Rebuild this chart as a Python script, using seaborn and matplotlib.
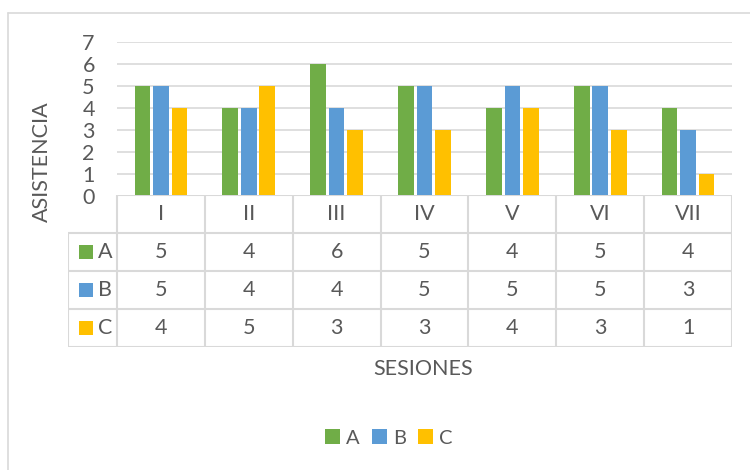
import pandas as pd
import matplotlib.pyplot as plt
import seaborn as sns
from matplotlib.patches import Patch
from matplotlib.lines import Line2D

sesiones = ["I", "II", "III", "IV", "V", "VI", "VII"]
grupos = ["A", "B", "C"]
valores_a = [5, 4, 6, 5, 4, 5, 4]
valores_b = [5, 4, 4, 5, 5, 5, 3]
valores_c = [4, 5, 3, 3, 4, 3, 1]
colores = ["#70AD47", "#5B9BD5", "#FFC000"]

series = {"A": valores_a, "B": valores_b, "C": valores_c}
df = pd.DataFrame([(s, g, series[g][i]) for g in grupos for i, s in enumerate(sesiones)],
                  columns=["Sesion", "Grupo", "Valor"])

sns.set_style("white")
plt.rcParams["font.family"] = ["Lato", "DejaVu Sans"]
txt = "#595959"
grid = "#D9D9D9"
fs = 15.5

W, H = 750, 470
fig = plt.figure(figsize=(7.5, 4.7), dpi=100)

def box(x0, y0, x1, y1):
    return [x0 / W, 1 - y1 / H, (x1 - x0) / W, (y1 - y0) / H]

# chart frame (top and left visible)
fig.add_artist(Line2D([8 / W, 8 / W], [0, 1 - 13 / H], color=grid, lw=1.2, transform=fig.transFigure))
fig.add_artist(Line2D([8 / W, 1], [1 - 13 / H, 1 - 13 / H], color=grid, lw=1.2, transform=fig.transFigure))

ax = fig.add_axes(box(117, 42, 732, 196))
sns.barplot(data=df, x="Sesion", y="Valor", hue="Grupo", palette=colores,
            width=0.63, gap=0.15, ax=ax, legend=False, saturation=1, linewidth=0)
ax.set_xlim(-0.5, 6.5)
ax.set_ylim(0, 7)
ax.set_yticks(range(8))
ax.yaxis.grid(True, color=grid, lw=1.2)
ax.set_axisbelow(True)
ax.set_xticks([])
ax.set_xlabel("")
ax.set_ylabel("")
for sp in ax.spines.values():
    sp.set_visible(False)
ax.tick_params(axis="y", length=0, pad=16, labelsize=fs, labelcolor=txt)

# data table
left_w = 49 / 87.86
ax_t = fig.add_axes(box(68, 195, 732, 347))
ax_t.set_xlim(-0.5 - left_w, 6.5)
ax_t.set_ylim(0, 4)
ax_t.axis("off")
lkw = dict(color=grid, lw=1.5, solid_capstyle="butt")
ax_t.plot([-0.5, 6.5], [4, 4], **lkw)
for yy in [3, 2, 1, 0]:
    ax_t.plot([-0.5 - left_w, 6.5], [yy, yy], **lkw)
for i in range(8):
    ax_t.plot([i - 0.5, i - 0.5], [0, 4], **lkw)
ax_t.plot([-0.5 - left_w, -0.5 - left_w], [0, 3], **lkw)
for i, s in enumerate(sesiones):
    ax_t.text(i, 3.5, s, ha="center", va="center", fontsize=fs, color=txt)
for r, g in enumerate(grupos):
    yc = 2.5 - r
    ax_t.add_patch(plt.Rectangle((-0.5 - left_w + 0.13, yc - 0.18), 0.16, 0.36,
                                 color=colores[r], lw=0))
    ax_t.text(-0.5 - left_w + 0.34, yc, g, ha="left", va="center", fontsize=fs, color=txt)
    for i, v in enumerate(series[g]):
        ax_t.text(i, yc, str(v), ha="center", va="center", fontsize=fs, color=txt)

fig.text(42 / W, 1 - 162 / H, "ASISTENCIA", rotation=90, ha="center", va="center",
         fontsize=fs, color=txt)
fig.text(423 / W, 1 - 369 / H, "SESIONES", ha="center", va="center", fontsize=fs, color=txt)

handles = [Patch(facecolor=c, edgecolor="none") for c in colores]
fig.legend(handles, grupos, loc="center", bbox_to_anchor=(389 / W, 1 - 438 / H), ncol=3,
           frameon=False, fontsize=14.5, labelcolor=txt, handlelength=0.75, handleheight=0.75,
           handletextpad=0.3, columnspacing=0.6)

fig.savefig("out.png", dpi=100, facecolor="white")
